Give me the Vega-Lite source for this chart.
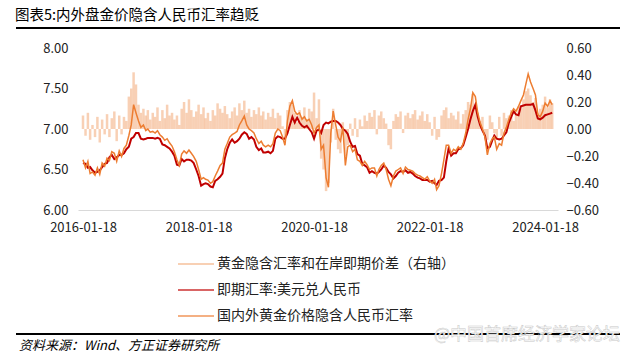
{
"$schema": "https://vega.github.io/schema/vega-lite/v6.json",
"background": "white",
"padding": {"left": 15, "top": 7, "right": 0, "bottom": 0},
"config": {"font": "Noto Sans CJK SC", "view": {"stroke": null}},
"datasets": {
"main": [
{"d":"2016-01-18","s":6.58,"g":6.62,"p":0.10},{"d":"2016-02-03","s":6.57,"g":6.52,"p":-0.05},{"d":"2016-02-18","s":6.52,"g":6.60,"p":0.12},{"d":"2016-03-03","s":6.53,"g":6.45,"p":-0.08},{"d":"2016-03-18","s":6.49,"g":6.47,"p":0.03},{"d":"2016-04-03","s":6.46,"g":6.43,"p":-0.06},{"d":"2016-04-18","s":6.47,"g":6.52,"p":0.09},{"d":"2016-05-03","s":6.49,"g":6.44,"p":-0.10},{"d":"2016-05-18","s":6.53,"g":6.58,"p":0.07},{"d":"2016-06-03","s":6.57,"g":6.54,"p":-0.04},{"d":"2016-06-18","s":6.58,"g":6.64,"p":0.11},{"d":"2016-07-03","s":6.65,"g":6.61,"p":-0.06},{"d":"2016-07-18","s":6.68,"g":6.72,"p":0.08},{"d":"2016-08-03","s":6.63,"g":6.70,"p":0.13},{"d":"2016-08-18","s":6.65,"g":6.60,"p":-0.09},{"d":"2016-09-03","s":6.68,"g":6.73,"p":0.10},{"d":"2016-09-18","s":6.68,"g":6.66,"p":-0.04},{"d":"2016-10-03","s":6.70,"g":6.76,"p":0.09},{"d":"2016-10-18","s":6.75,"g":6.80,"p":0.06},{"d":"2016-11-03","s":6.78,"g":6.92,"p":0.24},{"d":"2016-11-18","s":6.88,"g":7.05,"p":0.30},{"d":"2016-12-03","s":6.90,"g":7.30,"p":0.42},{"d":"2016-12-18","s":6.95,"g":7.20,"p":0.33},
{"d":"2017-01-03","s":6.95,"g":7.10,"p":0.18},{"d":"2017-01-18","s":6.88,"g":7.02,"p":0.12},{"d":"2017-02-03","s":6.87,"g":7.05,"p":0.15},{"d":"2017-02-18","s":6.88,"g":6.98,"p":0.10},{"d":"2017-03-03","s":6.89,"g":7.00,"p":0.14},{"d":"2017-03-18","s":6.89,"g":6.96,"p":0.07},{"d":"2017-04-03","s":6.89,"g":6.97,"p":0.12},{"d":"2017-04-18","s":6.88,"g":6.95,"p":0.09},{"d":"2017-05-03","s":6.89,"g":6.98,"p":0.16},{"d":"2017-05-18","s":6.88,"g":6.93,"p":0.06},{"d":"2017-06-03","s":6.81,"g":6.90,"p":0.14},{"d":"2017-06-18","s":6.80,"g":6.86,"p":0.08},{"d":"2017-07-03","s":6.78,"g":6.88,"p":0.18},{"d":"2017-07-18","s":6.76,"g":6.83,"p":0.10},{"d":"2017-08-03","s":6.72,"g":6.79,"p":0.12},{"d":"2017-08-18","s":6.67,"g":6.72,"p":0.07},{"d":"2017-09-03","s":6.56,"g":6.62,"p":0.10},{"d":"2017-09-18","s":6.55,"g":6.55,"p":0.03},{"d":"2017-10-03","s":6.63,"g":6.69,"p":0.15},{"d":"2017-10-18","s":6.60,"g":6.73,"p":0.20},{"d":"2017-11-03","s":6.62,"g":6.70,"p":0.12},{"d":"2017-11-18","s":6.62,"g":6.74,"p":0.22},{"d":"2017-12-03","s":6.61,"g":6.70,"p":0.14},{"d":"2017-12-18","s":6.58,"g":6.66,"p":0.09},
{"d":"2018-01-03","s":6.50,"g":6.60,"p":0.13},{"d":"2018-01-18","s":6.42,"g":6.50,"p":0.18},{"d":"2018-02-03","s":6.30,"g":6.38,"p":0.11},{"d":"2018-02-18","s":6.32,"g":6.40,"p":0.16},{"d":"2018-03-03","s":6.33,"g":6.38,"p":0.08},{"d":"2018-03-18","s":6.32,"g":6.37,"p":0.12},{"d":"2018-04-03","s":6.29,"g":6.33,"p":0.06},{"d":"2018-04-18","s":6.28,"g":6.35,"p":0.14},{"d":"2018-05-03","s":6.36,"g":6.42,"p":0.10},{"d":"2018-05-18","s":6.38,"g":6.48,"p":0.19},{"d":"2018-06-03","s":6.41,"g":6.55,"p":0.15},{"d":"2018-06-18","s":6.45,"g":6.58,"p":0.12},{"d":"2018-07-03","s":6.64,"g":6.75,"p":0.17},{"d":"2018-07-18","s":6.75,"g":6.82,"p":0.11},{"d":"2018-08-03","s":6.83,"g":6.90,"p":0.08},{"d":"2018-08-18","s":6.87,"g":6.93,"p":0.13},{"d":"2018-09-03","s":6.83,"g":6.95,"p":0.16},{"d":"2018-09-18","s":6.85,"g":6.97,"p":0.10},{"d":"2018-10-03","s":6.88,"g":7.05,"p":0.19},{"d":"2018-10-18","s":6.93,"g":7.10,"p":0.14},{"d":"2018-11-03","s":6.96,"g":7.16,"p":0.21},{"d":"2018-11-18","s":6.94,"g":7.05,"p":0.12},{"d":"2018-12-03","s":6.88,"g":7.00,"p":0.15},{"d":"2018-12-18","s":6.90,"g":6.98,"p":0.09},
{"d":"2019-01-03","s":6.87,"g":6.95,"p":0.14},{"d":"2019-01-18","s":6.78,"g":6.88,"p":0.11},{"d":"2019-02-03","s":6.74,"g":6.82,"p":0.16},{"d":"2019-02-18","s":6.76,"g":6.85,"p":0.10},{"d":"2019-03-03","s":6.71,"g":6.80,"p":0.13},{"d":"2019-03-18","s":6.71,"g":6.78,"p":0.07},{"d":"2019-04-03","s":6.72,"g":6.80,"p":0.12},{"d":"2019-04-18","s":6.70,"g":6.78,"p":0.09},{"d":"2019-05-03","s":6.73,"g":6.82,"p":0.15},{"d":"2019-05-18","s":6.88,"g":6.95,"p":0.08},{"d":"2019-06-03","s":6.91,"g":7.00,"p":0.12},{"d":"2019-06-18","s":6.90,"g":6.98,"p":0.10},{"d":"2019-07-03","s":6.88,"g":6.90,"p":0.02},{"d":"2019-07-18","s":6.88,"g":6.80,"p":-0.06},{"d":"2019-08-03","s":6.95,"g":7.10,"p":0.14},{"d":"2019-08-18","s":7.05,"g":7.28,"p":0.20},{"d":"2019-09-03","s":7.15,"g":7.35,"p":0.18},{"d":"2019-09-18","s":7.08,"g":7.22,"p":0.12},{"d":"2019-10-03","s":7.14,"g":7.18,"p":0.05},{"d":"2019-10-18","s":7.08,"g":7.20,"p":0.14},{"d":"2019-11-03","s":7.04,"g":7.12,"p":0.09},{"d":"2019-11-18","s":7.02,"g":7.15,"p":0.16},{"d":"2019-12-03","s":7.04,"g":7.10,"p":0.07},{"d":"2019-12-18","s":7.00,"g":7.12,"p":0.15},
{"d":"2020-01-03","s":6.96,"g":7.05,"p":0.13},{"d":"2020-01-18","s":6.88,"g":6.95,"p":0.27},{"d":"2020-02-03","s":6.98,"g":7.02,"p":0.08},{"d":"2020-02-18","s":6.99,"g":7.05,"p":0.22},{"d":"2020-03-03","s":6.95,"g":6.75,"p":-0.22},{"d":"2020-03-18","s":7.05,"g":6.80,"p":-0.30},{"d":"2020-04-03","s":7.08,"g":6.40,"p":-0.46},{"d":"2020-04-18","s":7.07,"g":6.28,"p":-0.40},{"d":"2020-05-03","s":7.09,"g":6.95,"p":-0.10},{"d":"2020-05-18","s":7.10,"g":7.22,"p":0.15},{"d":"2020-06-03","s":7.10,"g":7.05,"p":-0.08},{"d":"2020-06-18","s":7.08,"g":6.90,"p":-0.15},{"d":"2020-07-03","s":7.05,"g":6.85,"p":-0.18},{"d":"2020-07-18","s":7.00,"g":7.02,"p":0.05},{"d":"2020-08-03","s":6.98,"g":6.55,"p":-0.20},{"d":"2020-08-18","s":6.94,"g":6.78,"p":-0.12},{"d":"2020-09-03","s":6.84,"g":6.80,"p":0.04},{"d":"2020-09-18","s":6.78,"g":6.72,"p":-0.05},{"d":"2020-10-03","s":6.79,"g":6.75,"p":0.08},{"d":"2020-10-18","s":6.69,"g":6.62,"p":-0.06},{"d":"2020-11-03","s":6.67,"g":6.60,"p":0.07},{"d":"2020-11-18","s":6.57,"g":6.55,"p":0.02},{"d":"2020-12-03","s":6.55,"g":6.60,"p":0.10},{"d":"2020-12-18","s":6.53,"g":6.56,"p":0.06},
{"d":"2021-01-03","s":6.46,"g":6.50,"p":0.12},{"d":"2021-01-18","s":6.48,"g":6.52,"p":0.09},{"d":"2021-02-03","s":6.46,"g":6.52,"p":0.14},{"d":"2021-02-18","s":6.45,"g":6.42,"p":-0.04},{"d":"2021-03-03","s":6.47,"g":6.50,"p":0.10},{"d":"2021-03-18","s":6.50,"g":6.55,"p":0.13},{"d":"2021-04-03","s":6.55,"g":6.58,"p":0.08},{"d":"2021-04-18","s":6.52,"g":6.50,"p":0.04},{"d":"2021-05-03","s":6.47,"g":6.38,"p":-0.12},{"d":"2021-05-18","s":6.44,"g":6.30,"p":-0.15},{"d":"2021-06-03","s":6.39,"g":6.42,"p":0.06},{"d":"2021-06-18","s":6.42,"g":6.48,"p":0.11},{"d":"2021-07-03","s":6.46,"g":6.50,"p":0.09},{"d":"2021-07-18","s":6.48,"g":6.52,"p":0.13},{"d":"2021-08-03","s":6.47,"g":6.45,"p":-0.03},{"d":"2021-08-18","s":6.49,"g":6.53,"p":0.10},{"d":"2021-09-03","s":6.46,"g":6.50,"p":0.12},{"d":"2021-09-18","s":6.47,"g":6.49,"p":0.08},{"d":"2021-10-03","s":6.45,"g":6.48,"p":0.11},{"d":"2021-10-18","s":6.42,"g":6.45,"p":0.14},{"d":"2021-11-03","s":6.40,"g":6.43,"p":0.07},{"d":"2021-11-18","s":6.39,"g":6.42,"p":0.10},{"d":"2021-12-03","s":6.37,"g":6.40,"p":0.13},{"d":"2021-12-18","s":6.37,"g":6.38,"p":0.06},
{"d":"2022-01-03","s":6.37,"g":6.41,"p":0.11},{"d":"2022-01-18","s":6.35,"g":6.36,"p":0.05},{"d":"2022-02-03","s":6.36,"g":6.33,"p":-0.05},{"d":"2022-02-18","s":6.33,"g":6.38,"p":0.09},{"d":"2022-03-03","s":6.31,"g":6.25,"p":-0.08},{"d":"2022-03-18","s":6.36,"g":6.30,"p":-0.06},{"d":"2022-04-03","s":6.37,"g":6.45,"p":0.10},{"d":"2022-04-18","s":6.40,"g":6.62,"p":0.14},{"d":"2022-05-03","s":6.60,"g":6.80,"p":0.16},{"d":"2022-05-18","s":6.76,"g":6.80,"p":0.08},{"d":"2022-06-03","s":6.67,"g":6.70,"p":0.12},{"d":"2022-06-18","s":6.70,"g":6.75,"p":0.10},{"d":"2022-07-03","s":6.70,"g":6.73,"p":0.07},{"d":"2022-07-18","s":6.75,"g":6.78,"p":0.13},{"d":"2022-08-03","s":6.76,"g":6.75,"p":0.04},{"d":"2022-08-18","s":6.80,"g":6.82,"p":0.11},{"d":"2022-09-03","s":6.90,"g":6.95,"p":0.14},{"d":"2022-09-18","s":7.00,"g":7.12,"p":0.20},{"d":"2022-10-03","s":7.12,"g":7.25,"p":0.18},{"d":"2022-10-18","s":7.22,"g":7.45,"p":0.26},{"d":"2022-11-03","s":7.30,"g":7.40,"p":0.15},{"d":"2022-11-18","s":7.15,"g":7.20,"p":0.12},{"d":"2022-12-03","s":7.05,"g":7.08,"p":0.06},{"d":"2022-12-18","s":6.98,"g":7.00,"p":0.09},
{"d":"2023-01-03","s":6.92,"g":6.90,"p":-0.04},{"d":"2023-01-18","s":6.76,"g":6.68,"p":-0.08},{"d":"2023-02-03","s":6.78,"g":6.82,"p":0.10},{"d":"2023-02-18","s":6.86,"g":6.88,"p":0.05},{"d":"2023-03-03","s":6.92,"g":6.90,"p":-0.03},{"d":"2023-03-18","s":6.88,"g":6.75,"p":-0.07},{"d":"2023-04-03","s":6.87,"g":6.82,"p":0.09},{"d":"2023-04-18","s":6.88,"g":6.80,"p":-0.05},{"d":"2023-05-03","s":6.92,"g":6.95,"p":0.12},{"d":"2023-05-18","s":6.96,"g":7.02,"p":0.08},{"d":"2023-06-03","s":7.08,"g":7.12,"p":0.10},{"d":"2023-06-18","s":7.15,"g":7.20,"p":0.14},{"d":"2023-07-03","s":7.22,"g":7.25,"p":0.06},{"d":"2023-07-18","s":7.18,"g":7.22,"p":0.11},{"d":"2023-08-03","s":7.17,"g":7.28,"p":0.17},{"d":"2023-08-18","s":7.28,"g":7.35,"p":0.15},{"d":"2023-09-03","s":7.29,"g":7.42,"p":0.22},{"d":"2023-09-18","s":7.30,"g":7.55,"p":0.28},{"d":"2023-10-03","s":7.30,"g":7.68,"p":0.30},{"d":"2023-10-18","s":7.30,"g":7.58,"p":0.25},{"d":"2023-11-03","s":7.31,"g":7.50,"p":0.20},{"d":"2023-11-18","s":7.23,"g":7.42,"p":0.23},{"d":"2023-12-03","s":7.13,"g":7.18,"p":0.12},{"d":"2023-12-18","s":7.12,"g":7.15,"p":0.15},
{"d":"2024-01-03","s":7.14,"g":7.22,"p":0.18},{"d":"2024-01-18","s":7.17,"g":7.32,"p":0.24},{"d":"2024-02-03","s":7.18,"g":7.28,"p":0.16},{"d":"2024-02-18","s":7.19,"g":7.35,"p":0.22},{"d":"2024-03-03","s":7.20,"g":7.30,"p":0.19}
],
"seg": [{"a": 0, "b": 1, "y": 0}],
"notes": [{"t": "资料来源：Wind、方正证券研究所", "a": 0, "y": 0}],
"wm": [{"w": "@中国首席经济学家论坛", "y": 0}]
},
"vconcat": [
{
"width": 604, "height": 1,
"data": {"name": "seg"},
"mark": {"type": "rule", "strokeWidth": 2, "color": "#000000"},
"encoding": {"x": {"field": "a", "type": "quantitative", "scale": {"domain": [0, 1]}, "axis": null}, "x2": {"field": "b"}, "y": {"value": 0}},
"title": {"text": "图表5:内外盘金价隐含人民币汇率趋贬", "anchor": "start", "fontSize": 14.5, "fontWeight": "normal", "color": "#000000", "offset": 4}
},
{
"width": 480, "height": 162,
"data": {"name": "main"},
"layer": [
{
"mark": {"type": "bar", "size": 2.5, "opacity": 0.6},
"encoding": {
"x": {"field": "d", "type": "temporal", "scale": {"type": "utc", "domain": [{"year": 2016, "month": 1, "date": 18, "utc": true}, {"year": 2024, "month": 3, "date": 8, "utc": true}]},
"axis": {"title": null, "format": "%Y-%m-%d", "values": [{"year": 2016, "month": 1, "date": 18, "utc": true}, {"year": 2018, "month": 1, "date": 18, "utc": true}, {"year": 2020, "month": 1, "date": 18, "utc": true}, {"year": 2022, "month": 1, "date": 18, "utc": true}, {"year": 2024, "month": 1, "date": 18, "utc": true}], "grid": false, "ticks": false, "domainColor": "#d9d9d9", "domainWidth": 1, "labelFontSize": 13, "labelColor": "#222222", "labelPadding": 11, "labelFlush": false, "labelOverlap": false}},
"y": {"field": "p", "type": "quantitative", "scale": {"domain": [-0.6, 0.6], "nice": false, "zero": false}, "axis": {"orient": "right", "title": null, "values": [-0.6, -0.4, -0.2, 0, 0.2, 0.4, 0.6], "format": ".2f", "grid": false, "ticks": false, "domain": false, "labelFontSize": 13, "labelColor": "#222222", "labelPadding": 8}},
"y2": {"datum": 0},
"color": {"datum": "黄金隐含汇率和在岸即期价差（右轴）", "type": "nominal",
"scale": {"domain": ["黄金隐含汇率和在岸即期价差（右轴）", "即期汇率:美元兑人民币", "国内外黄金价格隐含人民币汇率"], "range": ["#f4b183", "#c00000", "#ed7d31"]},
"legend": {"title": null, "orient": "none", "legendX": 161, "legendY": 217, "direction": "vertical", "symbolSize": 1296, "symbolType": "stroke", "symbolStrokeWidth": 2, "labelFontSize": 14, "labelColor": "#222222", "labelLimit": 500, "labelOffset": 2, "rowPadding": -18,
"encode": {"symbols": {
"shape": {"signal": "datum.value === '黄金隐含汇率和在岸即期价差（右轴）' ? 'M-1,-0.2H1V0.2H-1Z' : 'stroke'"},
"fill": {"signal": "datum.value === '黄金隐含汇率和在岸即期价差（右轴）' ? '#f6c3a0' : 'transparent'"},
"stroke": {"signal": "datum.value === '即期汇率:美元兑人民币' ? '#c00000' : (datum.value === '国内外黄金价格隐含人民币汇率' ? '#ed7d31' : 'transparent')"},
"strokeWidth": {"value": 2},
"opacity": {"value": 1}
}}}
}
}
},
{
"layer": [
{"mark": {"type": "line", "strokeWidth": 2},
"encoding": {"x": {"field": "d", "type": "temporal"}, "y": {"field": "s", "type": "quantitative", "scale": {"domain": [6, 8], "nice": false, "zero": false}, "axis": {"orient": "left", "title": null, "values": [6, 6.5, 7, 7.5, 8], "format": ".2f", "grid": false, "ticks": false, "domain": false, "labelFontSize": 13, "labelColor": "#222222", "labelPadding": 10}}, "color": {"datum": "即期汇率:美元兑人民币", "type": "nominal"}}},
{"mark": {"type": "line", "strokeWidth": 1.5},
"encoding": {"x": {"field": "d", "type": "temporal"}, "y": {"field": "g", "type": "quantitative"}, "color": {"datum": "国内外黄金价格隐含人民币汇率", "type": "nominal"}}}
]
}
],
"resolve": {"scale": {"y": "independent"}}
},
{
"width": 604, "height": 105,
"layer": [
{"data": {"name": "seg"},
"mark": {"type": "rule", "strokeWidth": 2, "color": "#000000"},
"encoding": {"x": {"field": "a", "type": "quantitative", "scale": {"domain": [0, 1]}, "axis": null}, "x2": {"field": "b"}, "y": {"field": "y", "type": "quantitative", "scale": {"domain": [0, 1]}, "axis": null}}},
{"data": {"name": "wm"},
"mark": {"type": "text", "align": "right", "baseline": "middle", "dy": 1, "fontSize": 17, "fill": "#ffffff", "stroke": "#c8c8c8", "strokeWidth": 0.5},
"encoding": {"text": {"field": "w"}, "x": {"value": "width"}, "y": {"field": "y", "type": "quantitative"}}},
{"data": {"name": "notes"},
"mark": {"type": "text", "align": "left", "baseline": "middle", "dy": 12, "dx": 3, "fontSize": 13, "fontStyle": "italic", "color": "#000000"},
"encoding": {"text": {"field": "t"}, "x": {"field": "a", "type": "quantitative"}, "y": {"field": "y", "type": "quantitative"}}}
]
}
],
"spacing": 19,
"bounds": "flush",
"center": true
}
